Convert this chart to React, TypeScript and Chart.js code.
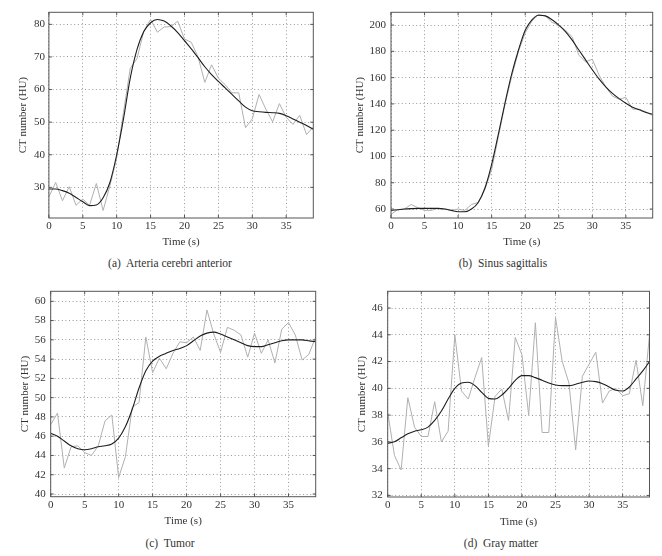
import React, { useEffect, useRef } from "react";
import { Chart, registerables } from "chart.js";

Chart.register(...registerables);

// ---- shared categories ----
const timeS = [0, 1, 2, 3, 4, 5, 6, 7, 8, 9, 10, 11, 12, 13, 14, 15, 16, 17, 18, 19, 20, 21, 22, 23, 24, 25, 26, 27, 28, 29, 30, 31, 32, 33, 34, 35, 36, 37, 38, 39];
const xTickLabels = [0, 5, 10, 15, 20, 25, 30, 35];

// ---- (a) Arteria cerebri anterior ----
const acaRaw = [27.1, 31.5, 25.9, 30.2, 24.5, 26.4, 24.5, 31.2, 22.9, 30.5, 39.0, 53.0, 66.5, 69.5, 78.0, 81.5, 77.6, 79.2, 79.3, 81.0, 75.5, 74.5, 70.0, 62.2, 67.6, 63.5, 61.5, 59.0, 59.0, 48.3, 51.0, 58.5, 54.0, 50.1, 55.7, 51.5, 49.3, 52.1, 46.2, 48.5];
const acaFit = [29.5, 29.5, 29.0, 28.2, 26.9, 25.6, 24.4, 24.6, 26.8, 31.5, 40.0, 51.0, 63.5, 72.3, 77.8, 80.5, 81.5, 81.0, 79.5, 77.5, 75.0, 72.5, 69.8, 67.0, 64.6, 62.5, 60.5, 58.5, 56.5, 54.6, 53.5, 53.2, 53.0, 52.9, 52.7, 52.0, 51.0, 50.0, 49.0, 47.8];
const acaYTicks = [30, 40, 50, 60, 70, 80];

// ---- (b) Sinus sagittalis ----
const sinusRaw = [56.0, 59.5, 60.0, 63.5, 61.0, 59.0, 59.0, 60.5, 60.0, 59.0, 60.0, 59.0, 63.5, 65.0, 75.0, 90.0, 115.0, 140.0, 161.0, 180.0, 194.0, 203.0, 208.0, 207.0, 202.0, 200.0, 196.0, 191.0, 177.0, 172.0, 174.0, 162.0, 153.0, 146.0, 143.5, 145.0, 136.0, 136.0, 134.0, 131.0];
const sinusFit = [59.0, 59.5, 60.0, 60.3, 60.5, 60.5, 60.5, 60.5, 60.0, 59.0, 58.0, 58.0, 60.0, 65.0, 76.0, 94.0, 117.0, 141.0, 163.0, 181.0, 196.0, 204.0, 207.5, 207.0, 204.0, 200.0, 195.0, 188.5, 181.0, 173.5, 166.0, 159.0, 153.0, 148.0, 144.0, 140.5, 137.5, 135.5, 133.5, 132.0];
const sinusYTicks = [60, 80, 100, 120, 140, 160, 180, 200];

// ---- (c) Tumor ----
const tumorRaw = [47.2, 48.4, 42.7, 44.9, 45.0, 44.3, 44.0, 45.0, 47.6, 48.2, 41.7, 43.9, 49.0, 49.5, 56.3, 52.6, 54.1, 53.0, 54.6, 55.8, 55.7, 56.3, 54.9, 59.1, 56.6, 54.7, 57.3, 57.0, 56.5, 54.2, 56.7, 54.6, 56.0, 53.6, 57.1, 57.8, 56.5, 53.9, 54.5, 56.3];
const tumorFit = [46.3, 46.0, 45.5, 45.0, 44.7, 44.6, 44.7, 44.9, 45.0, 45.2, 45.8, 47.0, 48.8, 51.0, 52.8, 53.8, 54.3, 54.6, 54.9, 55.1, 55.4, 55.9, 56.4, 56.7, 56.8, 56.6, 56.3, 56.0, 55.7, 55.4, 55.3, 55.3, 55.5, 55.7, 55.9, 56.0, 56.0, 56.0, 55.9, 55.8];
const tumorYTicks = [40, 42, 44, 46, 48, 50, 52, 54, 56, 58, 60];

// ---- (d) Gray matter ----
const grayRaw = [38.2, 35.0, 33.9, 39.3, 37.1, 36.4, 36.4, 39.0, 36.0, 36.8, 44.0, 39.8, 39.2, 40.8, 42.3, 35.7, 39.4, 39.95, 37.6, 43.8, 42.5, 38.0, 44.9, 36.7, 36.7, 45.3, 42.0, 40.4, 35.4, 40.9, 41.8, 42.7, 38.9, 39.8, 40.0, 39.45, 39.6, 42.1, 38.7, 44.0];
const grayFit = [35.9, 36.0, 36.3, 36.6, 36.8, 36.9, 37.1, 37.6, 38.3, 39.2, 40.0, 40.4, 40.45, 40.2, 39.7, 39.25, 39.2, 39.5, 40.0, 40.6, 40.95, 40.95, 40.8, 40.6, 40.4, 40.25, 40.2, 40.2, 40.3, 40.45, 40.55, 40.5, 40.35, 40.1, 39.85, 39.8, 40.1, 40.7, 41.3, 42.0];
const grayYTicks = [32, 34, 36, 38, 40, 42, 44, 46];

const captions = ["(a)  Arteria cerebri anterior", "(b)  Sinus sagittalis", "(c)  Tumor", "(d)  Gray matter"];

const FONT = "'Liberation Serif', 'DejaVu Serif', serif";
const TEXT = "#333";
const CANVAS_W = 331;
const CANVAS_H = 256;

type PanelCfg = {
  left: number;
  top: number;
  area: { l: number; t: number; r: number; b: number };
  yTitleX: number;
  xTitleY: number;
  yMin: number;
  yMax: number;
  yTicks: number[];
  raw: number[];
  fit: number[];
  tickPad: number;
};

const panels: PanelCfg[] = [
  { left: 0, top: 0, area: { l: 48.9, t: 12.3, r: 313.3, b: 218 }, yTitleX: 23.3, xTitleY: 242.3, yMin: 20.6, yMax: 83.7, yTicks: acaYTicks, raw: acaRaw, fit: acaFit, tickPad: 4 },
  { left: 331, top: 0, area: { l: 60, t: 12.3, r: 321.7, b: 218 }, yTitleX: 29.3, xTitleY: 242.3, yMin: 53.2, yMax: 209.7, yTicks: sinusYTicks, raw: sinusRaw, fit: sinusFit, tickPad: 5 },
  { left: 0, top: 278, area: { l: 50.7, t: 13.3, r: 315.7, b: 218.7 }, yTitleX: 25, xTitleY: 243.5, yMin: 39.72, yMax: 61.04, yTicks: tumorYTicks, raw: tumorRaw, fit: tumorFit, tickPad: 5 },
  { left: 331, top: 278, area: { l: 56.7, t: 13.3, r: 318.5, b: 219 }, yTitleX: 31, xTitleY: 244, yMin: 31.88, yMax: 47.25, yTicks: grayYTicks, raw: grayRaw, fit: grayFit, tickPad: 5 },
];

const captionPos = [
  { cx: 170, cy: 263 },
  { cx: 503, cy: 263 },
  { cx: 170, cy: 543 },
  { cx: 501, cy: 543 },
];

const framePlugin = {
  id: "frameTicks",
  afterDatasetsDraw(chart: any) {
    const { ctx, chartArea: a, scales } = chart;
    const x = scales.x;
    const y = scales.y;
    const L = 3;
    ctx.save();
    ctx.strokeStyle = "#555";
    ctx.lineWidth = 1;
    ctx.beginPath();
    x.ticks.forEach((t: any) => {
      const px = x.getPixelForValue(t.value);
      ctx.moveTo(px, a.bottom);
      ctx.lineTo(px, a.bottom - L);
      ctx.moveTo(px, a.top);
      ctx.lineTo(px, a.top + L);
    });
    y.ticks.forEach((t: any) => {
      const py = y.getPixelForValue(t.value);
      ctx.moveTo(a.left, py);
      ctx.lineTo(a.left + L, py);
      ctx.moveTo(a.right, py);
      ctx.lineTo(a.right - L, py);
    });
    ctx.stroke();
    ctx.strokeRect(a.left, a.top, a.right - a.left, a.bottom - a.top);
    ctx.restore();
  },
};

function Panel({ cfg }: { cfg: PanelCfg }) {
  const ref = useRef<HTMLCanvasElement | null>(null);
  useEffect(() => {
    if (!ref.current) return;
    const { area } = cfg;
    const fontSize = 11;
    const lh = fontSize * 1.2;
    const chart = new Chart(ref.current, {
      type: "line",
      data: {
        datasets: [
          {
            data: timeS.map((t, i) => ({ x: t, y: cfg.fit[i] })),
            borderColor: "#1e1e1e",
            borderWidth: 1.1,
            pointRadius: 0,
            cubicInterpolationMode: "monotone",
            order: 0,
          },
          {
            data: timeS.map((t, i) => ({ x: t, y: cfg.raw[i] })),
            borderColor: "#b0b0b0",
            borderWidth: 1,
            pointRadius: 0,
            tension: 0,
            order: 1,
          },
        ],
      },
      options: {
        animation: false,
        responsive: false,
        devicePixelRatio: 1,
        layout: {
          padding: { left: 0, top: area.t, right: CANVAS_W - area.r, bottom: 0 },
        },
        plugins: { legend: { display: false }, tooltip: { enabled: false } },
        scales: {
          x: {
            type: "linear",
            min: 0,
            max: 39,
            afterBuildTicks: (s: any) => {
              s.ticks = xTickLabels.map((v) => ({ value: v }));
            },
            afterFit: (s: any) => {
              s.height = CANVAS_H - area.b;
            },
            ticks: {
              autoSkip: false,
              maxRotation: 0,
              padding: 1.5,
              color: TEXT,
              font: { family: FONT, size: fontSize },
            },
            grid: { color: "#9a9a9a", lineWidth: 1, drawTicks: false },
            border: { display: false, dash: [1, 2.6] },
            title: {
              display: true,
              text: "Time (s)",
              color: TEXT,
              font: { family: FONT, size: fontSize },
              padding: { top: 0, bottom: Math.max(0, CANVAS_H - cfg.xTitleY - lh / 2) },
            },
          },
          y: {
            type: "linear",
            min: cfg.yMin,
            max: cfg.yMax,
            afterBuildTicks: (s: any) => {
              s.ticks = cfg.yTicks.map((v) => ({ value: v }));
            },
            afterFit: (s: any) => {
              s.width = area.l;
            },
            ticks: {
              autoSkip: false,
              padding: cfg.tickPad,
              color: TEXT,
              font: { family: FONT, size: fontSize },
            },
            grid: { color: "#9a9a9a", lineWidth: 1, drawTicks: false },
            border: { display: false, dash: [1, 2.6] },
            title: {
              display: true,
              text: "CT number (HU)",
              color: TEXT,
              font: { family: FONT, size: fontSize },
              padding: { top: Math.max(0, cfg.yTitleX - lh / 2), bottom: 0 },
            },
          },
        },
      },
      plugins: [framePlugin],
    } as any);
    return () => chart.destroy();
  }, [cfg]);
  return (
    <canvas
      ref={ref}
      width={CANVAS_W}
      height={CANVAS_H}
      style={{ position: "absolute", left: cfg.left, top: cfg.top, width: CANVAS_W, height: CANVAS_H }}
    />
  );
}

export default function App() {
  return (
    <div style={{ position: "absolute", left: 0, top: 0, width: 662, height: 556, background: "#fff", overflow: "hidden" }}>
      {panels.map((p, i) => (
        <Panel key={i} cfg={p} />
      ))}
      {captions.map((c, i) => (
        <div
          key={"c" + i}
          style={{
            position: "absolute",
            left: captionPos[i].cx - 120,
            top: captionPos[i].cy - 7,
            width: 240,
            textAlign: "center",
            fontFamily: FONT,
            fontSize: 11.5,
            lineHeight: "14px",
            color: TEXT,
            whiteSpace: "pre",
          }}
        >
          {c}
        </div>
      ))}
    </div>
  );
}
